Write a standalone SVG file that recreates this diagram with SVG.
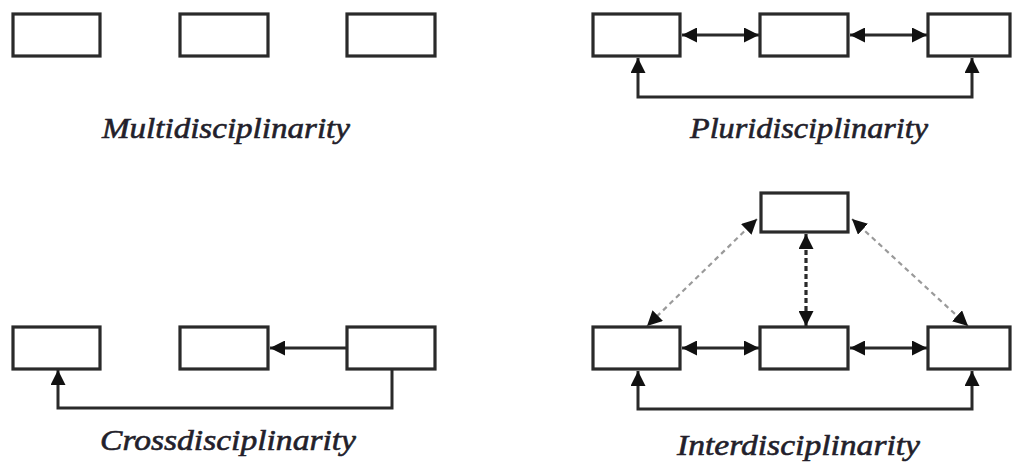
<svg xmlns="http://www.w3.org/2000/svg" width="1013" height="467" viewBox="0 0 1013 467">
<defs>
<style>
.box{fill:#fff;stroke:#2a2a2a;stroke-width:3.2}
.ln{fill:none;stroke:#2a2a2a;stroke-width:3}
.dl{fill:none;stroke:#9a9a9a;stroke-width:2.2;stroke-dasharray:5 4}
.dv{fill:none;stroke:#2a2a2a;stroke-width:3.2;stroke-dasharray:5 3}
.lbl{font-family:"Liberation Serif","Times New Roman",serif;font-style:italic;font-weight:normal;font-size:30px;fill:#231f2b;stroke:#231f2b;stroke-width:0.6;text-anchor:start}
</style>
<marker id="ah" viewBox="0 0 10 10" refX="10" refY="5" markerWidth="15" markerHeight="15" markerUnits="userSpaceOnUse" orient="auto-start-reverse">
<path d="M0,0 L10,5 L0,10 z" fill="#111"/>
</marker>
</defs>
<rect width="1013" height="467" fill="#fff"/>

<g id="connectors">
<line class="ln" x1="682" y1="35" x2="759" y2="35" marker-start="url(#ah)" marker-end="url(#ah)"/>
<line class="ln" x1="850" y1="35" x2="927" y2="35" marker-start="url(#ah)" marker-end="url(#ah)"/>
<path class="ln" d="M638,58 L638,97 L972,97 L972,58" marker-start="url(#ah)" marker-end="url(#ah)"/>
<line class="ln" x1="347" y1="348" x2="270" y2="348" marker-end="url(#ah)"/>
<path class="ln" d="M392,369 L392,408 L58,408 L58,370" marker-end="url(#ah)"/>
<line class="ln" x1="682" y1="348" x2="759" y2="348" marker-start="url(#ah)" marker-end="url(#ah)"/>
<line class="ln" x1="850" y1="348" x2="927" y2="348" marker-start="url(#ah)" marker-end="url(#ah)"/>
<path class="ln" d="M638,371 L638,409 L972,409 L972,371" marker-start="url(#ah)" marker-end="url(#ah)"/>
<line class="dv" x1="806" y1="234" x2="806" y2="326" marker-start="url(#ah)" marker-end="url(#ah)"/>
<line class="dl" x1="757" y1="219" x2="647" y2="326" marker-start="url(#ah)" marker-end="url(#ah)"/>
<line class="dl" x1="852" y1="219" x2="968" y2="326" marker-start="url(#ah)" marker-end="url(#ah)"/>
</g>

<g id="multi">
<rect id="m1" class="box" x="13" y="14" width="87" height="42"/>
<rect id="m2" class="box" x="180" y="14" width="88" height="42"/>
<rect id="m3" class="box" x="347" y="14" width="88" height="42"/>
<text class="lbl" x="102" y="138" textLength="248" lengthAdjust="spacingAndGlyphs">Multidisciplinarity</text>
</g>

<g id="pluri">
<rect id="p1" class="box" x="593" y="14" width="87" height="42"/>
<rect id="p2" class="box" x="760" y="14" width="88" height="42"/>
<rect id="p3" class="box" x="928" y="14" width="82" height="42"/>
<text class="lbl" x="690" y="138" textLength="238" lengthAdjust="spacingAndGlyphs">Pluridisciplinarity</text>
</g>

<g id="cross">
<rect id="c1" class="box" x="13" y="327" width="87" height="42"/>
<rect id="c2" class="box" x="180" y="327" width="88" height="42"/>
<rect id="c3" class="box" x="347" y="327" width="88" height="42"/>
<text class="lbl" x="100" y="450" textLength="256" lengthAdjust="spacingAndGlyphs">Crossdisciplinarity</text>
</g>

<g id="inter">
<rect id="i0" class="box" x="761" y="193" width="87" height="39"/>
<rect id="i1" class="box" x="593" y="327" width="87" height="42"/>
<rect id="i2" class="box" x="760" y="327" width="88" height="42"/>
<rect id="i3" class="box" x="928" y="327" width="82" height="42"/>
<text class="lbl" x="677" y="455" textLength="243" lengthAdjust="spacingAndGlyphs">Interdisciplinarity</text>
</g>
</svg>
